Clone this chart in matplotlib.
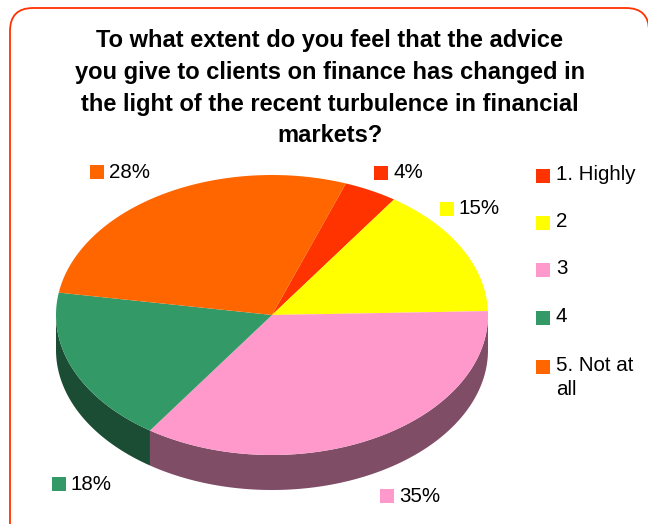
import numpy as np
import matplotlib
import matplotlib.pyplot as plt
from matplotlib.patches import Polygon, FancyBboxPatch, Rectangle

matplotlib.use("Agg")

plt.rcParams['font.family'] = ['Liberation Sans', 'DejaVu Sans']

title = ("To what extent do you feel that the advice\n"
         "you give to clients on finance has changed in\n"
         "the light of the recent turbulence in financial\n"
         "markets?")
categories = ["1. Highly", "2", "3", "4", "5. Not at\nall"]
shares = [4, 15, 35, 18, 28]
colors = ["#FF3300", "#FFFF00", "#FF99CC", "#339966", "#FF6600"]

# pie geometry in pixel units
cx, cy = 272, 315
rx, ry = 216, 140
depth = 35
start_angle = 70  # first slice starts 20 deg right of 12 o'clock

# where each percentage label sits (box left edge, vertical centre)
label_pos = [(374, 173), (440, 209), (380, 496), (52, 484), (90, 172)]
legend_y = [176, 223, 270, 318, 367]


def shade(c, f=0.5):
    r, g, b = matplotlib.colors.to_rgb(c)
    return (r * f, g * f, b * f)


def arc(t0, t1, n=200):
    t = np.radians(np.linspace(t0, t1, n))
    return cx + rx * np.cos(t), cy - ry * np.sin(t)


fig = plt.figure(figsize=(6.48, 5.24), dpi=100)
ax = fig.add_axes([0, 0, 1, 1])
ax.set_xlim(0, 648)
ax.set_ylim(524, 0)
ax.axis("off")

ax.add_patch(FancyBboxPatch((10, 8), 639, 540,
                            boxstyle="round,pad=0,rounding_size=23",
                            fc="white", ec="#FF3300", lw=1.3, zorder=0,
                            clip_on=False))

ends = start_angle - 360 * np.cumsum(shares) / sum(shares)
starts = np.concatenate([[start_angle], ends[:-1]])

# side walls on the front half of the disc
for s, e, c in zip(starts, ends, colors):
    for k in range(-1, 1):
        lo = max(e, -180 + 360 * k)
        hi = min(s, 0 + 360 * k)
        if hi > lo:
            x, y = arc(hi, lo)
            pts = np.column_stack([np.concatenate([x, x[::-1]]),
                                   np.concatenate([y, y[::-1] + depth])])
            ax.add_patch(Polygon(pts, closed=True, fc=shade(c), ec="none", zorder=1))

# top faces
for s, e, c in zip(starts, ends, colors):
    x, y = arc(s, e)
    pts = np.column_stack([np.concatenate([[cx], x]), np.concatenate([[cy], y])])
    ax.add_patch(Polygon(pts, closed=True, fc=c, ec="none", zorder=2))

# percentage labels
for (lx, ly), v, c in zip(label_pos, shares, colors):
    ax.add_patch(Rectangle((lx, ly - 7), 14, 14, fc=c, ec="none", zorder=3))
    ax.text(lx + 19, ly, f"{v}%", fontsize=14.8, va="center", ha="left", zorder=3)

# legend
for y, name, c in zip(legend_y, categories, colors):
    ax.add_patch(Rectangle((536, y - 7), 14, 14, fc=c, ec="none", zorder=3))
    ax.text(556, y - 11, name, fontsize=14.8, va="top", ha="left",
            linespacing=1.35, zorder=3)

ax.text(330, 88, title, fontsize=17, fontweight="bold", ha="center",
        va="center", linespacing=1.5)

fig.savefig("out.png", dpi=100)
